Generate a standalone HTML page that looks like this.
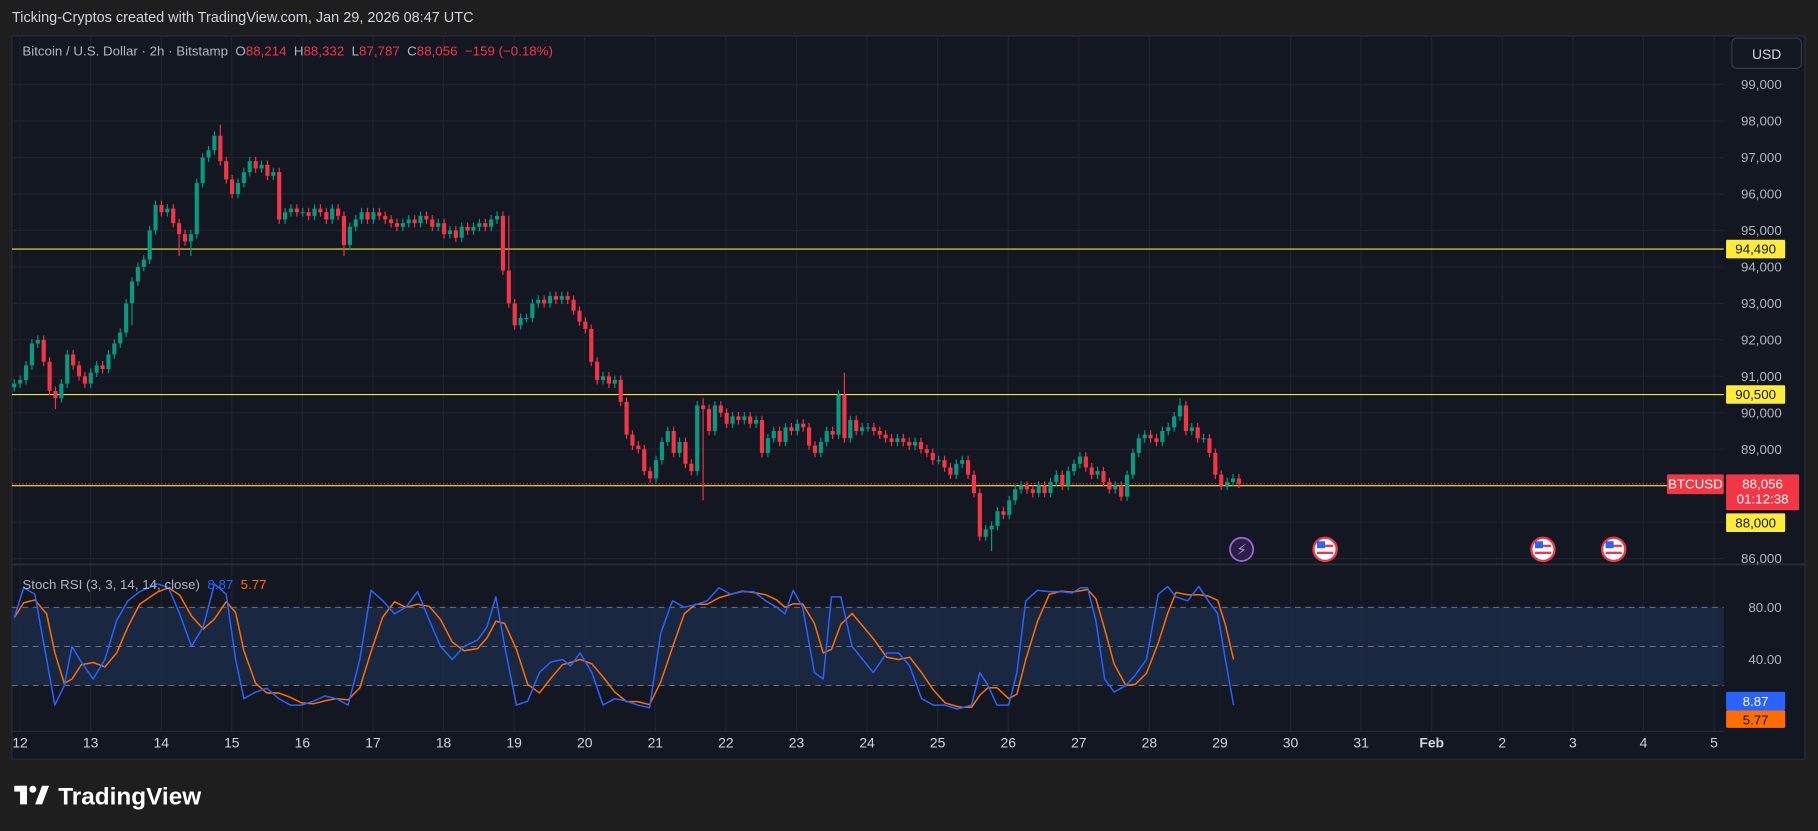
<!DOCTYPE html>
<html><head><meta charset="utf-8"><style>
html,body{margin:0;padding:0;background:#1e1e1e;width:1818px;height:831px;overflow:hidden}
svg text{font-family:"Liberation Sans","DejaVu Sans",sans-serif;white-space:pre}
</style></head><body>
<svg id="chart" width="1818" height="831" viewBox="0 0 1568 717" xmlns="http://www.w3.org/2000/svg">
<rect width="1568" height="717" fill="#1e1e1e"/>
<text x="10" y="19" fill="#d1d4dc" font-size="12.5">Ticking-Cryptos created with TradingView.com, Jan 29, 2026 08:47 UTC</text>
<rect x="10" y="31" width="1547" height="624" fill="#131722" stroke="#2a2e39"/>
<g id="grid"></g>
<g id="stochBg"></g>
<g id="hlines"></g>
<g id="candles"></g>
<g id="stoch"></g>
<line x1="10" y1="487" x2="1557" y2="487" stroke="#2a2e39" stroke-width="1.5"/>
<line x1="10" y1="631" x2="1487" y2="631" stroke="#2a2e39"/>
<g id="axes"></g>
<rect x="1494" y="33" width="60" height="26" rx="4" fill="#131722" stroke="#363a45"/>
<text x="1524" y="51" fill="#d1d4dc" font-size="12" text-anchor="middle">USD</text>
<text x="19" y="48" font-size="11.5" fill="#b2b5be">Bitcoin / U.S. Dollar · 2h · Bitstamp  O<tspan fill="#f23645">88,214</tspan>  H<tspan fill="#f23645">88,332</tspan>  L<tspan fill="#f23645">87,787</tspan>  C<tspan fill="#f23645">88,056  −159 (−0.18%)</tspan></text>
<text x="19" y="508" font-size="11.5" fill="#b2b5be">Stoch RSI (3, 3, 14, 14, close)  <tspan fill="#2962ff">8.87</tspan>  <tspan fill="#ff6d00">5.77</tspan></text>
<g>
<circle cx="1071" cy="474" r="10" fill="#2a1f45" stroke="#9c6ade" stroke-width="1.5"/>
<text x="1071" y="479" fill="#b38cf0" font-size="13" text-anchor="middle">⚡</text>
<g id="flags"></g>
</g>
<g>
<rect x="12" y="678" width="11" height="5" fill="#fff"/><rect x="17" y="678" width="6" height="16" fill="#fff"/>
<circle cx="28" cy="681" r="3" fill="#fff"/><path d="M30 694 L36 678 L42 678 L36 694 Z" fill="#fff"/>
<text x="50" y="694" fill="#fff" font-size="21" font-weight="bold">TradingView</text>
</g>
</svg>
<script>
// ---- data ----
const closes = [90.8,
90.9,91.3,91.9,92.0,91.4,90.6,90.4,90.8,91.6,91.3,91.0,90.8,
91.1,91.3,91.2,91.6,91.9,92.2,93.0,93.6,94.0,94.2,95.0,95.7,
95.5,95.6,95.2,94.9,94.7,94.9,96.3,97.0,97.2,97.6,96.9,96.4,
96.0,96.3,96.6,96.9,96.7,96.8,96.5,96.6,95.3,95.5,95.6,95.5,
95.5,95.4,95.6,95.5,95.3,95.6,95.4,94.6,95.1,95.3,95.5,95.3,
95.5,95.4,95.3,95.2,95.1,95.2,95.3,95.2,95.4,95.3,95.1,95.2,
94.9,95.0,94.8,95.1,95.0,95.1,95.2,95.1,95.3,95.4,93.9,93.0,
92.4,92.6,92.6,93.0,93.1,93.0,93.2,93.1,93.2,93.1,92.8,92.5,
92.3,91.4,90.9,91.0,90.8,90.9,90.3,89.4,89.1,89.0,88.4,88.2,
88.7,89.2,89.5,88.9,89.2,88.6,88.4,90.2,90.1,89.5,90.2,90.0,
89.7,89.9,89.8,89.9,89.7,89.8,88.9,89.3,89.5,89.2,89.6,89.5,
89.7,89.6,89.1,88.9,89.2,89.5,89.4,90.5,89.3,89.8,89.5,89.6,
89.6,89.5,89.4,89.3,89.2,89.3,89.2,89.1,89.2,89.0,88.9,88.7,
88.7,88.5,88.3,88.6,88.7,88.3,87.8,86.6,86.8,86.9,87.3,87.2,
87.6,87.9,88.0,87.9,87.8,88.0,87.8,88.1,88.3,88.0,88.4,88.6,
88.8,88.5,88.3,88.4,88.1,87.9,88.0,87.7,88.3,88.9,89.3,89.4,
89.3,89.2,89.5,89.6,89.9,90.2,89.5,89.6,89.3,89.3,88.9,88.3,
88.0,88.1,88.2,88.056];
const spikeIdx  = [7,30,35,56,84,117,117,141,166,198,28,20];
const spikeVal  = [90.1,94.3,97.9,94.3,95.4,87.6,90.4,91.1,86.2,90.4,94.3,92.4];
const kIdx = [0,1.6,3.5,5.5,6.9,8.5,9.8,11.4,13.4,15.4,17.4,19.3,21.3,24.3,26.2,28.1,30.1,32.1,34,36,37.6,39,41,42.9,44.9,46.9,48.8,50.8,52.8,54.7,56.7,58.7,60.6,62.6,64.6,66.5,68.5,70.5,72.4,74.4,76.4,78.7,80.3,81.8,83.3,85.3,87.2,89.2,91.1,93.1,94.5,96.1,98.1,100,102,104,105.9,107.9,109.8,111.8,113.8,115.7,117.7,119.7,121.7,123.6,125.6,127.6,129.5,130.9,132.3,133.9,135.9,137.4,138.8,140.4,142.3,145.9,148.2,150.2,152.1,154.1,156.1,158.1,160.1,161,162.6,164,165.4,166.9,168.9,170.3,171.8,173.8,175.8,177.8,179.7,181.1,182.3,183.7,185.2,186.8,188.8,190.4,192.3,194.3,195.9,197.3,199.3,201.2,202.8,204.4,205.7,207.1];
const kVal = [72,95,90,40,5,20,50,38,25,40,70,85,92,98,95,75,50,65,98,90,40,10,15,18,10,5,5,8,12,10,5,40,93,85,75,80,92,70,50,40,50,55,65,88,50,5,8,30,38,40,35,45,30,5,10,8,5,3,60,85,80,82,85,95,90,92,92,85,80,75,93,80,30,25,88,88,50,30,45,45,35,10,5,5,2,3,5,30,20,5,5,30,85,93,92,92,91,95,95,70,25,15,20,28,40,90,96,88,85,96,85,75,40,5,2,5,8.87];
const priceTicks = [99,98,97,96,95,94,93,92,91,90,89,88,87,86];
const dayLabels = ["12","13","14","15","16","17","18","19","20","21","22","23","24","25","26","27","28","29","30","31","Feb","2","3","4","5"];
const levels = [94.49,90.5,88.0];
const levelLabels = ["94,490","90,500","88,000"];
// ---- scales ----
const NS="http://www.w3.org/2000/svg";
const yP = k => 73 + (99-k)*31.46;
const xI = i => 12 + i*5.08;
const xD = d => 17 + 60.9*d;
const yS = v => 614 - v*1.125;
function mk(tag, attrs, parent){const e=document.createElementNS(NS,tag);for(const k in attrs)e.setAttribute(k,attrs[k]);parent.appendChild(e);return e;}
const grid=document.getElementById('grid'), axes=document.getElementById('axes');
dayLabels.forEach((lab,d)=>{
  const l=mk('line',{x1:xD(d),x2:xD(d),y1:31,y2:631,stroke:'#1e222d'},grid);
  
  
  const t=mk('text',{x:xD(d),y:645,fill:'#d1d4dc','font-size':12,'text-anchor':'middle','font-weight':lab==='Feb'?'bold':'normal'},axes);
  t.textContent=lab;
  
  
});
priceTicks.forEach(k=>{
  const l=mk('line',{x1:10,x2:1487,y1:yP(k),y2:yP(k),stroke:'#1e222d'},grid);
  
  
  const t=mk('text',{x:1537,y:yP(k)+4,fill:'#b2b5be','font-size':11.5,'text-anchor':'end'},axes);
  t.textContent=(k*1000).toLocaleString('en-US');
  
  
});
[80,40].forEach(v=>{
  const t=mk('text',{x:1537,y:yS(v)+4,fill:'#b2b5be','font-size':11.5,'text-anchor':'end'},axes);
  t.textContent=v.toFixed(2);
  
  
});
const sb=document.getElementById('stochBg');
const band=mk('rect',{x:10,y:yS(80),width:1477,height:yS(20)-yS(80),fill:'#1c2a45',opacity:0.85},sb);


[80,50,20].forEach(v=>{
  const l=mk('line',{x1:10,x2:1487,y1:yS(v),y2:yS(v),stroke:'#787b86','stroke-dasharray':'5,4','stroke-width':0.8},sb);
  
  
});
const hl=document.getElementById('hlines');
levels.forEach((k,i)=>{
  const l=mk('line',{x1:10,x2:1487,y1:yP(k),y2:yP(k),stroke:'#f7e43a','stroke-width':1},hl);
  
  
});
const last=closes[closes.length-1];
const pl=mk('line',{x1:10,x2:1487,y1:yP(last),y2:yP(last),stroke:'#f23645','stroke-dasharray':'1,2'},hl);


const cg=document.getElementById('candles');
closes.forEach((c,i)=>{
  const o=i?closes[i-1]:c-0.1;
  let hi=Math.max(o,c)+0.12, lo=Math.min(o,c)-0.12;
  spikeIdx.forEach((s,j)=>{ if(s===i){ if(spikeVal[j]>Math.max(o,c)) hi=Math.max(hi,spikeVal[j]); else lo=Math.min(lo,spikeVal[j]); }});
  const col=c>=o?'#089981':'#f23645', x=xI(i);
  const w=mk('line',{x1:x,x2:x,y1:yP(hi),y2:yP(lo),stroke:col,'stroke-width':1},cg);
  
  
  const top=yP(Math.max(o,c)), bot=yP(Math.min(o,c));
  const b=mk('rect',{x:x-1.8,y:top,width:3.6,height:Math.max(1,bot-top),fill:col},cg);
  
  
});
const sg=document.getElementById('stoch');
const dVal=kVal.map((v,i)=>{const a=kVal.slice(Math.max(0,i-2),i+1);return a.reduce((s,x)=>s+x,0)/a.length;});
function poly(vals,col,name){
  const p=mk('polyline',{points:vals.map((v,i)=>xI(kIdx[i])+','+yS(v)).join(' '),fill:'none',stroke:col,'stroke-width':1.3,'stroke-linejoin':'round'},sg);
  
  
}
poly(dVal,'#ff6d00','stoch-d-line');
poly(kVal,'#2962ff','stoch-k-line');
function tag(x,y,w,h,fill,txt,tc,name){
  const r=mk('rect',{x:x,y:y,width:w,height:h,fill:fill,rx:1},axes);
  
  
  txt.forEach((s,i)=>{const t=mk('text',{x:x+w/2,y:y+12+i*13,fill:tc,'font-size':11.5,'text-anchor':'middle'},axes);t.textContent=s;
  
  });
}
tag(1489,yP(levels[0])-8,51,16,'#ffeb3b',[levelLabels[0]],'#131722','level-tag-94490');
tag(1489,yP(levels[1])-8,51,16,'#ffeb3b',[levelLabels[1]],'#131722','level-tag-90500');
tag(1489,443,51,16,'#ffeb3b',[levelLabels[2]],'#131722','level-tag-88000');
tag(1438,yP(last)-8,49,17,'#f23645',['BTCUSD'],'#fff','symbol-tag');
tag(1489,yP(last)-8,63,31,'#f23645',['88,056','01:12:38'],'#fff','last-price-tag');
tag(1489,597,51,16,'#2962ff',['8.87'],'#fff','stoch-k-tag');
tag(1489,613,51,15,'#ff6d00',['5.77'],'#131722','stoch-d-tag');
const fg=document.getElementById('flags');
[1143,1331,1392].forEach(x=>{
  const c=mk('circle',{cx:x,cy:474,r:10,fill:'#fff',stroke:'#f23645','stroke-width':2},fg);
  
  
  mk('rect',{x:x-7,y:470,width:14,height:2,fill:'#f23645'},fg);
  mk('rect',{x:x-7,y:476,width:14,height:2,fill:'#f23645'},fg);
  mk('rect',{x:x-7,y:467,width:7,height:6,fill:'#2962ff'},fg);
});
</script>
</body></html>
